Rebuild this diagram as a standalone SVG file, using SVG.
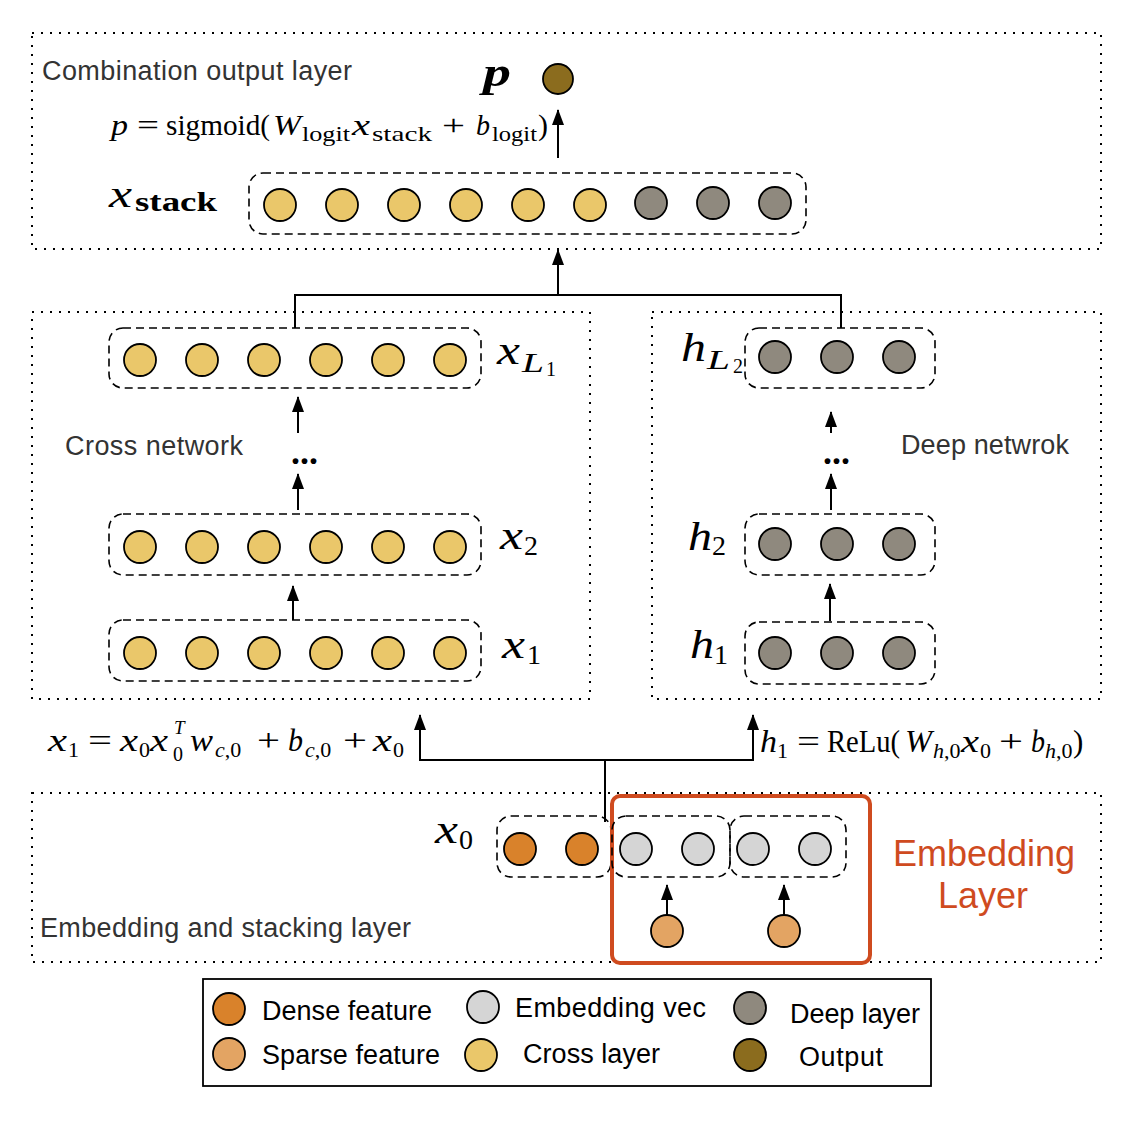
<svg xmlns="http://www.w3.org/2000/svg" width="1138" height="1124" viewBox="0 0 1138 1124">
<style>
.dot{fill:none;stroke:#000;stroke-width:2;stroke-dasharray:2 7}
.dash{fill:none;stroke:#000;stroke-width:1.6;stroke-dasharray:8 5}
.c{stroke:#000;stroke-width:1.8}
.y{fill:#EAC76A}.g{fill:#8F897E}.o{fill:#8B6C1E}.d{fill:#D9822B}.s{fill:#E3A463}.e{fill:#D5D5D5}
.lbl{font-family:"Liberation Sans",Arial,sans-serif;font-size:27px;fill:#333}
.leg{font-family:"Liberation Sans",Arial,sans-serif;font-size:27px;fill:#000}
.m{font-family:"Liberation Serif","Times New Roman",serif;font-style:italic;fill:#000}
.n{font-style:normal}
.ln{fill:none;stroke:#000;stroke-width:2}
</style>
<defs>
<marker id="ah" viewBox="0 0 16 12" refX="15" refY="6" markerWidth="16" markerHeight="12" orient="auto-start-reverse" markerUnits="userSpaceOnUse">
<path d="M0 0 L16 6 L0 12 Z" fill="#000"/>
</marker>
</defs>
<rect width="1138" height="1124" fill="#fff"/>

<g id="layers">
<rect class="dot" x="32" y="33" width="1069" height="216"/>
<rect class="dot" x="32" y="312" width="558" height="387"/>
<rect class="dot" x="652" y="312" width="449" height="387"/>
<rect class="dot" x="32" y="793" width="1069" height="169"/>
<text class="lbl" x="42" y="80" textLength="310">Combination output layer</text>
<text class="lbl" x="65" y="455" textLength="178">Cross network</text>
<text class="lbl" x="901" y="454" textLength="168">Deep netwrok</text>
<text class="lbl" x="40" y="937" textLength="371">Embedding and stacking layer</text>
</g>

<g id="connectors">
<line class="ln" x1="558" y1="158" x2="558" y2="110" marker-end="url(#ah)"/>
<line class="ln" x1="558" y1="295" x2="558" y2="250" marker-end="url(#ah)"/>
<polyline class="ln" points="295,328 295,295 841,295 841,328"/>
<line class="ln" x1="298" y1="433" x2="298" y2="397" marker-end="url(#ah)"/>
<line class="ln" x1="298" y1="510" x2="298" y2="474" marker-end="url(#ah)"/>
<line class="ln" x1="293" y1="620" x2="293" y2="586" marker-end="url(#ah)"/>
<line class="ln" x1="831" y1="433" x2="831" y2="412" marker-end="url(#ah)"/>
<line class="ln" x1="831" y1="510" x2="831" y2="474" marker-end="url(#ah)"/>
<line class="ln" x1="830" y1="621" x2="830" y2="584" marker-end="url(#ah)"/>
<polyline class="ln" points="420,715 420,760 753,760 753,715" marker-start="url(#ah)" marker-end="url(#ah)"/>
<line class="ln" x1="605" y1="760" x2="605" y2="822"/>
<line class="ln" x1="667" y1="915" x2="667" y2="885" marker-end="url(#ah)"/>
<line class="ln" x1="784" y1="915" x2="784" y2="885" marker-end="url(#ah)"/>
</g>

<g id="output">
<circle class="c o" cx="558" cy="79" r="15"/>
<text class="m" x="483" y="86" font-size="42" font-weight="bold" textLength="28" lengthAdjust="spacingAndGlyphs">p</text>
<text class="m" font-size="30" y="135">
<tspan x="111" textLength="17" lengthAdjust="spacingAndGlyphs">p</tspan><tspan class="n" x="137" textLength="22" lengthAdjust="spacingAndGlyphs">=</tspan><tspan class="n" x="166" textLength="104" lengthAdjust="spacingAndGlyphs">sigmoid(</tspan><tspan x="273" textLength="28" lengthAdjust="spacingAndGlyphs">W</tspan><tspan class="n" x="302" y="141" font-size="21" textLength="48" lengthAdjust="spacingAndGlyphs">logit</tspan><tspan x="352" y="135" textLength="18" lengthAdjust="spacingAndGlyphs">x</tspan><tspan class="n" x="372" y="141" font-size="21" textLength="60" lengthAdjust="spacingAndGlyphs">stack</tspan><tspan class="n" x="442" y="135" textLength="23" lengthAdjust="spacingAndGlyphs">+</tspan><tspan x="476" textLength="14" lengthAdjust="spacingAndGlyphs">b</tspan><tspan class="n" x="492" y="141" font-size="21" textLength="45" lengthAdjust="spacingAndGlyphs">logit</tspan><tspan class="n" x="538" y="135">)</tspan>
</text>
</g>

<g id="xstack">
<rect class="dash" x="249" y="173" width="557" height="61" rx="14"/>
<circle class="c y" cx="280" cy="205" r="16"/>
<circle class="c y" cx="342" cy="205" r="16"/>
<circle class="c y" cx="404" cy="205" r="16"/>
<circle class="c y" cx="466" cy="205" r="16"/>
<circle class="c y" cx="528" cy="205" r="16"/>
<circle class="c y" cx="590" cy="205" r="16"/>
<circle class="c g" cx="651" cy="203" r="16"/>
<circle class="c g" cx="713" cy="203" r="16"/>
<circle class="c g" cx="775" cy="203" r="16"/>
<text class="m" x="109" y="207" font-size="38" textLength="23" lengthAdjust="spacingAndGlyphs">x</text>
<text class="m n" x="135" y="211" font-size="28" font-weight="bold" textLength="82" lengthAdjust="spacingAndGlyphs">stack</text>
</g>

<g id="xL1">
<rect class="dash" x="109" y="328" width="372" height="60" rx="14"/>
<circle class="c y" cx="140" cy="360" r="16"/>
<circle class="c y" cx="202" cy="360" r="16"/>
<circle class="c y" cx="264" cy="360" r="16"/>
<circle class="c y" cx="326" cy="360" r="16"/>
<circle class="c y" cx="388" cy="360" r="16"/>
<circle class="c y" cx="450" cy="360" r="16"/>
<text class="m" font-size="40"><tspan x="497" y="364" textLength="23" lengthAdjust="spacingAndGlyphs">x</tspan><tspan x="522" y="372" font-size="28" textLength="22" lengthAdjust="spacingAndGlyphs">L</tspan><tspan class="n" x="546" y="376" font-size="20">1</tspan></text>
</g>

<g id="x2">
<rect class="dash" x="109" y="514" width="372" height="61" rx="14"/>
<circle class="c y" cx="140" cy="547" r="16"/>
<circle class="c y" cx="202" cy="547" r="16"/>
<circle class="c y" cx="264" cy="547" r="16"/>
<circle class="c y" cx="326" cy="547" r="16"/>
<circle class="c y" cx="388" cy="547" r="16"/>
<circle class="c y" cx="450" cy="547" r="16"/>
<text class="m" font-size="40"><tspan x="500" y="549" textLength="23" lengthAdjust="spacingAndGlyphs">x</tspan><tspan class="n" x="524" y="555" font-size="28">2</tspan></text>
<text class="m n" x="291" y="464" font-size="36" font-weight="bold">...</text>
</g>

<g id="x1">
<rect class="dash" x="109" y="620" width="372" height="61" rx="14"/>
<circle class="c y" cx="140" cy="653" r="16"/>
<circle class="c y" cx="202" cy="653" r="16"/>
<circle class="c y" cx="264" cy="653" r="16"/>
<circle class="c y" cx="326" cy="653" r="16"/>
<circle class="c y" cx="388" cy="653" r="16"/>
<circle class="c y" cx="450" cy="653" r="16"/>
<text class="m" font-size="40"><tspan x="502" y="658" textLength="23" lengthAdjust="spacingAndGlyphs">x</tspan><tspan class="n" x="527" y="664" font-size="28">1</tspan></text>
</g>

<g id="hL2">
<rect class="dash" x="745" y="328" width="190" height="60" rx="14"/>
<circle class="c g" cx="775" cy="357" r="16"/>
<circle class="c g" cx="837" cy="357" r="16"/>
<circle class="c g" cx="899" cy="357" r="16"/>
<text class="m" font-size="40"><tspan x="681" y="361" textLength="25" lengthAdjust="spacingAndGlyphs">h</tspan><tspan x="707" y="369" font-size="28" textLength="23" lengthAdjust="spacingAndGlyphs">L</tspan><tspan class="n" x="733" y="373" font-size="20">2</tspan></text>
</g>

<g id="h2">
<rect class="dash" x="745" y="514" width="190" height="61" rx="14"/>
<circle class="c g" cx="775" cy="544" r="16"/>
<circle class="c g" cx="837" cy="544" r="16"/>
<circle class="c g" cx="899" cy="544" r="16"/>
<text class="m" font-size="40"><tspan x="688" y="550" textLength="24" lengthAdjust="spacingAndGlyphs">h</tspan><tspan class="n" x="712" y="555" font-size="28">2</tspan></text>
<text class="m n" x="823" y="464" font-size="36" font-weight="bold">...</text>
</g>

<g id="h1">
<rect class="dash" x="745" y="622" width="190" height="62" rx="14"/>
<circle class="c g" cx="775" cy="653" r="16"/>
<circle class="c g" cx="837" cy="653" r="16"/>
<circle class="c g" cx="899" cy="653" r="16"/>
<text class="m" font-size="40"><tspan x="690" y="658" textLength="24" lengthAdjust="spacingAndGlyphs">h</tspan><tspan class="n" x="714" y="664" font-size="28">1</tspan></text>
</g>

<g id="formula-x1">
<text class="m" font-size="31" y="751">
<tspan x="48" textLength="19" lengthAdjust="spacingAndGlyphs">x</tspan><tspan class="n" x="68" y="757" font-size="22">1</tspan><tspan class="n" x="88" y="751" textLength="24" lengthAdjust="spacingAndGlyphs">=</tspan><tspan x="120" textLength="18" lengthAdjust="spacingAndGlyphs">x</tspan><tspan class="n" x="139" y="757" font-size="22">0</tspan><tspan x="150" y="751" textLength="18" lengthAdjust="spacingAndGlyphs">x</tspan><tspan x="174" y="734" font-size="19">T</tspan><tspan class="n" x="173" y="761" font-size="20">0</tspan><tspan x="190" y="751" textLength="23" lengthAdjust="spacingAndGlyphs">w</tspan><tspan x="215" y="757" font-size="22">c</tspan><tspan class="n" font-size="22">,0</tspan><tspan class="n" x="257" y="751" textLength="23" lengthAdjust="spacingAndGlyphs">+</tspan><tspan x="288" textLength="15" lengthAdjust="spacingAndGlyphs">b</tspan><tspan x="305" y="757" font-size="22">c</tspan><tspan class="n" font-size="22">,0</tspan><tspan class="n" x="343" y="751" textLength="24" lengthAdjust="spacingAndGlyphs">+</tspan><tspan x="373" textLength="19" lengthAdjust="spacingAndGlyphs">x</tspan><tspan class="n" x="393" y="757" font-size="22">0</tspan>
</text>
</g>

<g id="formula-h1">
<text class="m" font-size="31" y="752">
<tspan x="760" textLength="17" lengthAdjust="spacingAndGlyphs">h</tspan><tspan class="n" x="777" y="758" font-size="22">1</tspan><tspan class="n" x="797" y="752" textLength="23" lengthAdjust="spacingAndGlyphs">=</tspan><tspan class="n" x="827" textLength="73" lengthAdjust="spacingAndGlyphs">ReLu(</tspan><tspan x="905" textLength="27" lengthAdjust="spacingAndGlyphs">W</tspan><tspan x="933" y="758" font-size="22">h</tspan><tspan class="n" font-size="22">,0</tspan><tspan x="961" y="752" textLength="18" lengthAdjust="spacingAndGlyphs">x</tspan><tspan class="n" x="980" y="758" font-size="22">0</tspan><tspan class="n" x="999" y="752" textLength="24" lengthAdjust="spacingAndGlyphs">+</tspan><tspan x="1031" textLength="14" lengthAdjust="spacingAndGlyphs">b</tspan><tspan x="1045" y="758" font-size="22">h</tspan><tspan class="n" font-size="22">,0</tspan><tspan class="n" x="1073" y="752">)</tspan>
</text>
</g>

<g id="x0">
<rect class="dash" x="497" y="816" width="114" height="61" rx="14"/>
<circle class="c d" cx="520" cy="849" r="16"/>
<circle class="c d" cx="582" cy="849" r="16"/>
<text class="m" font-size="40"><tspan x="435" y="843" textLength="23" lengthAdjust="spacingAndGlyphs">x</tspan><tspan class="n" x="459" y="849" font-size="28">0</tspan></text>
</g>

<g id="embedding-layer">
<rect x="612" y="796" width="258" height="167" rx="8" fill="none" stroke="#CF4B1F" stroke-width="4"/>
<rect class="dash" x="612" y="816" width="118" height="61" rx="14"/>
<rect class="dash" x="730" y="816" width="116" height="61" rx="14"/>
<circle class="c e" cx="636" cy="849" r="16"/>
<circle class="c e" cx="698" cy="849" r="16"/>
<circle class="c e" cx="753" cy="849" r="16"/>
<circle class="c e" cx="815" cy="849" r="16"/>
<circle class="c s" cx="667" cy="931" r="16"/>
<circle class="c s" cx="784" cy="931" r="16"/>
<text x="984" y="866" text-anchor="middle" font-family="Liberation Sans,Arial,sans-serif" font-size="36" fill="#CF4B1F">Embedding</text>
<text x="983" y="908" text-anchor="middle" font-family="Liberation Sans,Arial,sans-serif" font-size="36" fill="#CF4B1F">Layer</text>
</g>

<g id="legend">
<rect x="203" y="979" width="728" height="107" fill="none" stroke="#000" stroke-width="1.8"/>
<circle class="c d" cx="229" cy="1009" r="16"/>
<circle class="c s" cx="229" cy="1054" r="16"/>
<circle class="c e" cx="483" cy="1007" r="16"/>
<circle class="c y" cx="481" cy="1055" r="16"/>
<circle class="c g" cx="750" cy="1008" r="16"/>
<circle class="c o" cx="750" cy="1055" r="16"/>
<text class="leg" x="262" y="1020" textLength="170">Dense feature</text>
<text class="leg" x="262" y="1064" textLength="178">Sparse feature</text>
<text class="leg" x="515" y="1017" textLength="191">Embedding vec</text>
<text class="leg" x="523" y="1063" textLength="137">Cross layer</text>
<text class="leg" x="790" y="1023" textLength="130">Deep layer</text>
<text class="leg" x="799" y="1066" textLength="84">Output</text>
</g>
</svg>
